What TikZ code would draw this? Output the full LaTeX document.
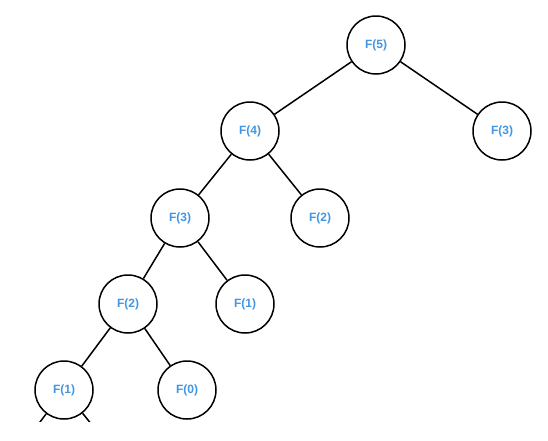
\documentclass[tikz,border=0pt]{standalone}
\usepackage{fontspec}
\setmainfont{Liberation Sans}
\usepackage{tikz}
\usetikzlibrary{positioning}
\definecolor{callblue}{RGB}{66,150,228}
\tikzset{
  call/.style ={circle, draw=black, line width=1.5pt, fill=white,
                minimum size=58pt, inner sep=0pt,
                font=\fontsize{12pt}{14pt}\selectfont\bfseries, text=callblue},
  edge/.style ={draw=black, line width=1.5pt},
}
\begin{document}
\begin{tikzpicture}[x=1pt, y=-1pt, on grid]
\useasboundingbox (0,0) rectangle (548,440);
\begin{scope}
\clip (0,0) rectangle (548,421);
\node[call] at (376,45) (f5)  {F(5)};
\node[call, below left=86pt and 126pt of f5]  (f4)  {F(4)};
\node[call, below right=86pt and 126pt of f5] (f3r) {F(3)};
\node[call, below left=87pt and 70pt of f4]   (f3)  {F(3)};
\node[call, below right=87pt and 70pt of f4]  (f2r) {F(2)};
\node[call, below left=86pt and 52pt of f3]   (f2)  {F(2)};
\node[call, below right=86pt and 65pt of f3]  (f1r) {F(1)};
\node[call, below left=86pt and 64pt of f2]   (f1)  {F(1)};
\node[call, below right=86pt and 59pt of f2]  (f0)  {F(0)};
\coordinate[below left=40pt and 30pt of f1]  (c1);
\coordinate[below right=40pt and 32pt of f1] (c0);
\draw[edge] (f5)--(f4); \draw[edge] (f5)--(f3r);
\draw[edge] (f4)--(f3); \draw[edge] (f4)--(f2r);
\draw[edge] (f3)--(f2); \draw[edge] (f3)--(f1r);
\draw[edge] (f2)--(f1); \draw[edge] (f2)--(f0);
\draw[edge] (f1)--(c1); \draw[edge] (f1)--(c0);
\end{scope}
\end{tikzpicture}
\end{document}
